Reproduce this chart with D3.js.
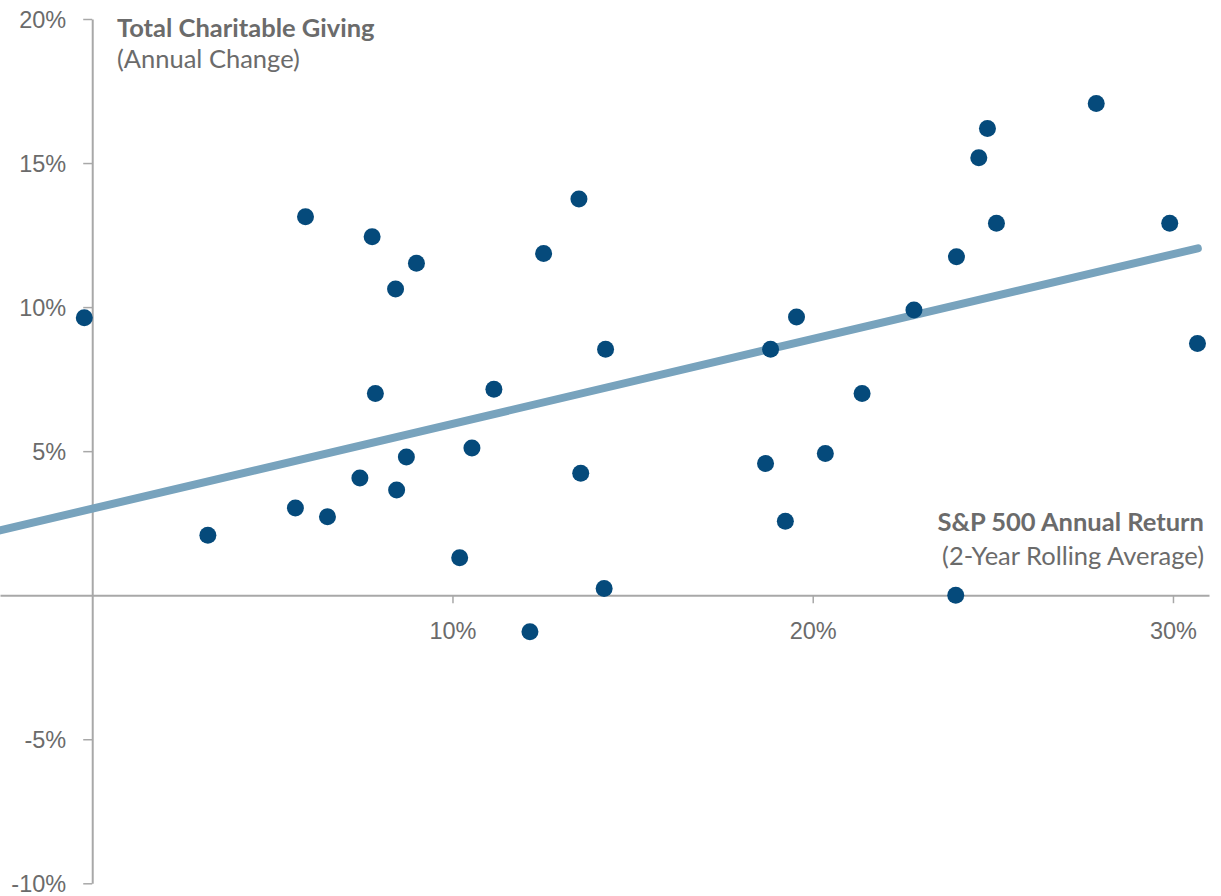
<!DOCTYPE html>
<html>
<head>
<meta charset="utf-8">
<script src="https://cdn.jsdelivr.net/npm/d3@7/dist/d3.min.js"></script>
<style>
  html, body { margin: 0; padding: 0; background: #fff; }
  svg { display: block; font-family: Lato, "Open Sans", sans-serif; }
</style>
</head>
<body>
<svg id="chart" width="1221" height="896"></svg>
<script>
// S&P 500 return (2-year rolling average, %) vs. annual change in total charitable giving (%)
const sp500Return = [
  -0.22, 3.21, 5.64, 5.92, 6.53, 7.43, 7.77, 7.86, 8.45, 8.42, 8.72, 9.00,
  10.20, 10.54, 11.15, 12.15, 12.53, 13.51, 13.56, 14.21, 14.25,
  18.69, 18.83, 19.24, 19.55, 20.35, 21.37, 22.81, 23.99, 23.97,
  24.61, 24.85, 25.10, 27.87, 29.91, 30.68
];
const givingChange = [
  9.63, 2.08, 3.03, 13.14, 2.72, 4.07, 12.44, 7.00, 3.65, 10.63, 4.80, 11.52,
  1.30, 5.11, 7.15, -1.27, 11.86, 13.75, 4.23, 0.23, 8.54,
  4.57, 8.54, 2.57, 9.66, 4.92, 7.00, 9.90, 11.75, 0.00,
  15.18, 16.20, 12.91, 17.07, 12.91, 8.74
];
// Linear trend, endpoints
const trendX = [-2.56, 30.69];
const trendY = [2.25, 12.04];

const xTicks = [10, 20, 30];
const yTicks = [-10, -5, 5, 10, 15, 20];

const svg = d3.select("#chart");

const x = d3.scaleLinear().domain([-2.56, 31]).range([0, 1209]);
const y = d3.scaleLinear().domain([-10, 20]).range([883.3, 19]);

const axisColor = "#a8a8a8";
const textColor = "#6b6b6b";

// x axis along the zero line
const xAxis = svg.append("g")
  .attr("transform", `translate(0,${y(0)})`)
  .call(d3.axisBottom(x).tickValues(xTicks).tickSize(8).tickSizeOuter(0)
    .tickFormat(d => d + "%"));
xAxis.select(".domain").attr("stroke", axisColor).attr("stroke-width", 2);
xAxis.selectAll(".tick line").attr("stroke", axisColor).attr("stroke-width", 1.5);
xAxis.selectAll(".tick text")
  .attr("y", 44).attr("dy", 0)
  .attr("fill", textColor)
  .style("font-size", "23.5px");

// y axis at x = 0
const yAxis = svg.append("g")
  .attr("transform", `translate(${x(0)},0)`)
  .call(d3.axisLeft(y).tickValues(yTicks).tickSize(9).tickSizeOuter(0)
    .tickFormat(d => d + "%"));
yAxis.select(".domain").attr("stroke", axisColor).attr("stroke-width", 2);
yAxis.selectAll(".tick line").attr("stroke", axisColor).attr("stroke-width", 1.5);
yAxis.selectAll(".tick text")
  .attr("x", -26).attr("dy", "0.35em")
  .attr("fill", textColor)
  .style("font-size", "23.5px");

// trend line
svg.append("line")
  .attr("x1", x(trendX[0])).attr("y1", y(trendY[0]))
  .attr("x2", x(trendX[1])).attr("y2", y(trendY[1]))
  .attr("stroke", "#78a3bd")
  .attr("stroke-width", 8)
  .attr("stroke-linecap", "round");

// data points
svg.append("g")
  .selectAll("circle")
  .data(d3.zip(sp500Return, givingChange))
  .join("circle")
  .attr("cx", d => x(d[0]))
  .attr("cy", d => y(d[1]))
  .attr("r", 8.5)
  .attr("fill", "#054a7b");

// axis titles
const yTitle = svg.append("text")
  .attr("x", 117).attr("fill", textColor)
  .style("font-size", "25.5px");
yTitle.append("tspan").attr("x", 117).attr("y", 37)
  .style("font-weight", "bold").text("Total Charitable Giving");
yTitle.append("tspan").attr("x", 117).attr("y", 68)
  .text("(Annual Change)");

const xTitle = svg.append("text")
  .attr("text-anchor", "end").attr("fill", textColor)
  .style("font-size", "25.5px");
xTitle.append("tspan").attr("x", 1204).attr("y", 531)
  .style("font-weight", "bold").text("S&P 500 Annual Return");
xTitle.append("tspan").attr("x", 1204).attr("y", 565)
  .text("(2-Year Rolling Average)");
</script>
</body>
</html>
